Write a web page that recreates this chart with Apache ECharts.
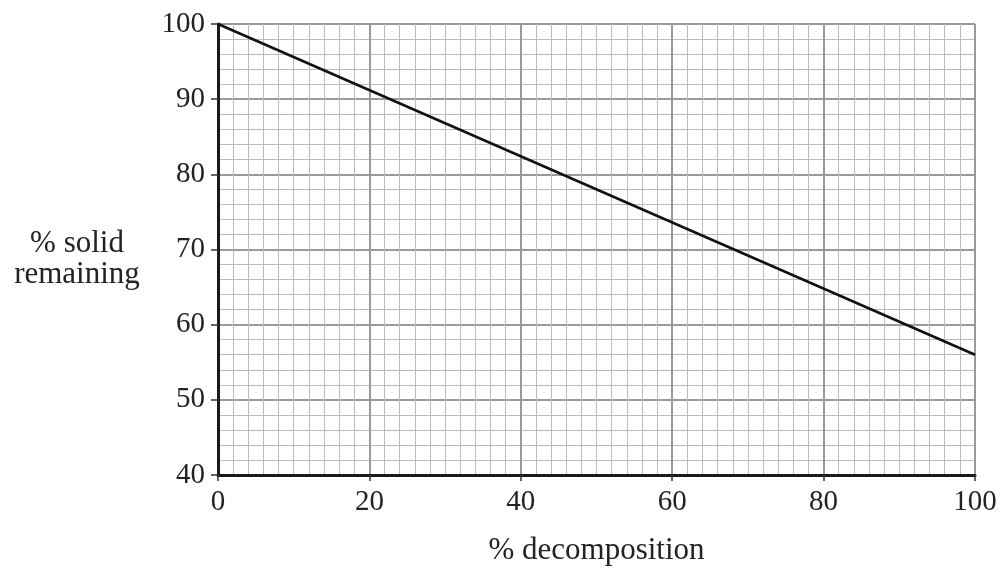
<!DOCTYPE html>
<html>
<head>
<meta charset="utf-8">
<script src="https://cdn.jsdelivr.net/npm/echarts@6/dist/echarts.min.js"></script>
<style>html,body{margin:0;padding:0;background:#fff}#c{width:1003px;height:571px}</style>
</head>
<body>
<div id="c"></div>
<script>
var decomposition = [0, 100];
var solidRemaining = [100, 56];
var xName = '% decomposition';
var yNameLines = ['% solid', 'remaining'];

var chart = echarts.init(document.getElementById('c'));
var font = 'Liberation Serif';
chart.setOption({
  animation: false,
  backgroundColor: '#fff',
  grid: {left: 218, right: 28, top: 24, bottom: 92},
  xAxis: {
    type: 'value', min: 0, max: 100, interval: 20,
    name: xName, nameLocation: 'middle', nameGap: 60,
    nameTextStyle: {fontFamily: font, fontSize: 31, color: '#222'},
    axisLine: {show: true, lineStyle: {color: '#1a1a1a', width: 3}},
    axisTick: {show: true, length: 6, lineStyle: {color: '#333', width: 1.5}},
    axisLabel: {fontFamily: font, fontSize: 29, color: '#222', margin: 13},
    splitLine: {show: true, lineStyle: {color: '#999', width: 2}},
    minorTick: {show: false, splitNumber: 10},
    minorSplitLine: {show: true, lineStyle: {color: '#bbb', width: 1}}
  },
  yAxis: {
    type: 'value', min: 40, max: 100, interval: 10,
    name: '{s| }\n' + yNameLines.map(function (t) { return '{a|' + t + '}'; }).join('\n'),
    nameLocation: 'middle', nameGap: 141, nameRotate: 0,
    nameTextStyle: {
      fontFamily: font, fontSize: 31, color: '#222', align: 'center', verticalAlign: 'middle',
      rich: {
        s: {fontSize: 10, lineHeight: 20},
        a: {fontFamily: font, fontSize: 31, color: '#222', lineHeight: 31, align: 'center'}
      }
    },
    axisLine: {show: true, lineStyle: {color: '#1a1a1a', width: 3}},
    axisTick: {show: true, length: 7, lineStyle: {color: '#333', width: 1.5}},
    axisLabel: {fontFamily: font, fontSize: 29, color: '#222', margin: 13},
    splitLine: {show: true, lineStyle: {color: '#999', width: 2}},
    minorTick: {show: false, splitNumber: 5},
    minorSplitLine: {show: true, lineStyle: {color: '#bbb', width: 1}}
  },
  series: [{
    type: 'line',
    data: decomposition.map(function (x, i) { return [x, solidRemaining[i]]; }),
    symbol: 'none',
    lineStyle: {color: '#111', width: 2.5},
    z: 5
  }]
});
</script>
</body>
</html>
